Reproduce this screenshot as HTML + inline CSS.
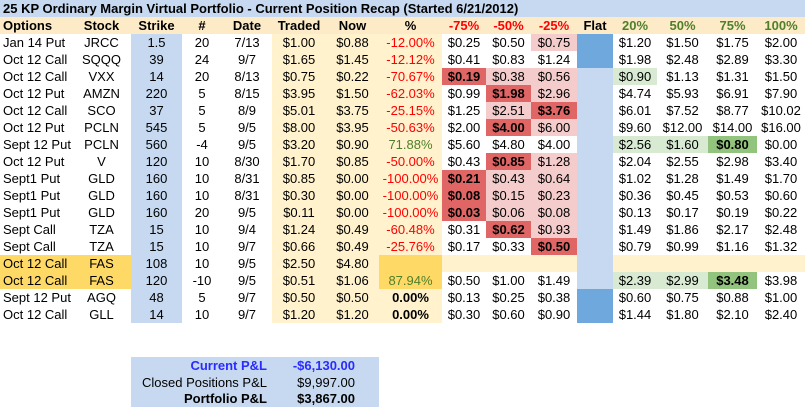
<!DOCTYPE html>
<html><head><meta charset="utf-8">
<style>
body{margin:0;width:805px;height:410px;background:#fff;font-family:"Liberation Sans",Arial,sans-serif;font-size:13px;overflow:hidden;position:relative}
.title{position:absolute;left:0;top:0;width:805px;height:17px;background:#c6d9f0;font-weight:bold;line-height:17px;padding-left:3px;box-sizing:border-box;white-space:nowrap}
table{position:absolute;left:0;top:17px;width:805px;border-collapse:collapse;table-layout:fixed}
td{height:17px;padding:0;line-height:17px;text-align:center;white-space:nowrap;overflow:visible}
tr.hdr td{background:#fdebc8;font-weight:bold}
.sum{position:absolute;left:131px;top:357px;width:248px;height:50px;background:#c6d9f0}
.sum div{height:16.7px;line-height:17px;position:relative}
.sum span{position:absolute;white-space:nowrap}
</style></head><body>
<div class="title">25 KP Ordinary Margin Virtual Portfolio - Current Position Recap (Started 6/21/2012)</div>
<table id="t"></table>
<div class="sum">
 <div style="color:#2b2bff;font-weight:bold"><span style="right:112px">Current P&amp;L</span><span style="right:24px">-$6,130.00</span></div>
 <div><span style="right:112px">Closed Positions P&amp;L</span><span style="right:24px">$9,997.00</span></div>
 <div style="font-weight:bold"><span style="right:112px">Portfolio P&amp;L</span><span style="right:24px">$3,867.00</span></div>
</div>
<script>
const widths=[72,59,51,40,50,54,53,63,44,45,46,36,44,51,49,48];
const headers=["Options","Stock","Strike","#","Date","Traded","Now","%","-75%","-50%","-25%","Flat","20%","50%","75%","100%"];
const rows=[
["Jan 14 Put","JRCC","1.5","20","7/13","$1.00","$0.88","-12.00%","$0.25","$0.50","$0.75","$1.20","$1.50","$1.75","$2.00"],
["Oct 12 Call","SQQQ","39","24","9/7","$1.65","$1.45","-12.12%","$0.41","$0.83","$1.24","$1.98","$2.48","$2.89","$3.30"],
["Oct 12 Call","VXX","14","20","8/13","$0.75","$0.22","-70.67%","$0.19","$0.38","$0.56","$0.90","$1.13","$1.31","$1.50"],
["Oct 12 Put","AMZN","220","5","8/15","$3.95","$1.50","-62.03%","$0.99","$1.98","$2.96","$4.74","$5.93","$6.91","$7.90"],
["Oct 12 Call","SCO","37","5","8/9","$5.01","$3.75","-25.15%","$1.25","$2.51","$3.76","$6.01","$7.52","$8.77","$10.02"],
["Oct 12 Put","PCLN","545","5","9/5","$8.00","$3.95","-50.63%","$2.00","$4.00","$6.00","$9.60","$12.00","$14.00","$16.00"],
["Sept 12 Put","PCLN","560","-4","9/5","$3.20","$0.90","71.88%","$5.60","$4.80","$4.00","$2.56","$1.60","$0.80","$0.00"],
["Oct 12 Put","V","120","10","8/30","$1.70","$0.85","-50.00%","$0.43","$0.85","$1.28","$2.04","$2.55","$2.98","$3.40"],
["Sept1 Put","GLD","160","10","8/31","$0.85","$0.00","-100.00%","$0.21","$0.43","$0.64","$1.02","$1.28","$1.49","$1.70"],
["Sept1 Put","GLD","160","10","8/31","$0.30","$0.00","-100.00%","$0.08","$0.15","$0.23","$0.36","$0.45","$0.53","$0.60"],
["Sept1 Put","GLD","160","20","9/5","$0.11","$0.00","-100.00%","$0.03","$0.06","$0.08","$0.13","$0.17","$0.19","$0.22"],
["Sept Call","TZA","15","10","9/4","$1.24","$0.49","-60.48%","$0.31","$0.62","$0.93","$1.49","$1.86","$2.17","$2.48"],
["Sept Call","TZA","15","10","9/7","$0.66","$0.49","-25.76%","$0.17","$0.33","$0.50","$0.79","$0.99","$1.16","$1.32"],
["Oct 12 Call","FAS","108","10","9/5","$2.50","$4.80","","","","","","","",""],
["Oct 12 Call","FAS","120","-10","9/5","$0.51","$1.06","87.94%","$0.50","$1.00","$1.49","$2.39","$2.99","$3.48","$3.98"],
["Sept 12 Put","AGQ","48","5","9/7","$0.50","$0.50","0.00%","$0.13","$0.25","$0.38","$0.60","$0.75","$0.88","$1.00"],
["Oct 12 Call","GLL","14","10","9/7","$1.20","$1.20","0.00%","$0.30","$0.60","$0.90","$1.44","$1.80","$2.10","$2.40"]];
const shades=["wwp","www","rpp","wrp","wpr","wrp","www","wrp","rpp","rpp","rpp","wrp","wwr","ooo","www","www","www"];
const gshades=["wwww","wwww","gwww","wwww","wwww","wwww","ggGw","wwww","wwww","wwww","wwww","wwww","wwww","oooo","ggGw","wwww","wwww"];
const flatDark=[true,true,false,false,false,false,false,false,false,false,false,false,false,false,false,true,true];
const bgMap={w:"#fff",p:"#f4cccc",r:"#e06666",g:"#d9ead3",G:"#93c47d",o:"#fff2cc"};
const t=document.getElementById('t');
const cg=document.createElement('colgroup');
widths.forEach(w=>{const c=document.createElement('col');c.style.width=w+'px';cg.appendChild(c);});
t.appendChild(cg);
const hr=document.createElement('tr');hr.className='hdr';


headers.forEach((h,ci)=>{const td=document.createElement('td');td.textContent=h;
 
 
 if(ci==0){td.style.textAlign='left';td.style.paddingLeft='3px';}
 if(ci>=8&&ci<=10)td.style.color='#ff0000';
 if(ci>=12)td.style.color='#4f7f2a';
 hr.appendChild(td);});
t.appendChild(hr);
rows.forEach((r,ri)=>{const tr=document.createElement('tr');
 
 
 const vals=[r[0],r[1],r[2],r[3],r[4],r[5],r[6],r[7],r[8],r[9],r[10],"",r[11],r[12],r[13],r[14]];
 vals.forEach((v,ci)=>{
  const td=document.createElement('td');
  
  
  td.textContent=v;
  let bg='#fff';
  if(ci==0){td.style.textAlign='left';td.style.paddingLeft='3px';}
  if(ci==2)bg='#c6d9f0';
  if(ci>=5&&ci<=7)bg='#fff2cc';
  if((ri==13||ri==14)&&(ci==0||ci==1))bg='#ffd966';
  if((ri==13||ri==14)&&ci==7)bg='#ffd966';
  if(ci==7){if(v.startsWith('-'))td.style.color='#ff0000';else if(v=='0.00%')td.style.fontWeight='bold';else td.style.color='#4f7f2a';}
  if(ci>=8&&ci<=10){const s=shades[ri][ci-8];bg=bgMap[s];if(s=='r')td.style.fontWeight='bold';}
  if(ci==11){bg=flatDark[ri]?'#6fa8dc':'#c6d9f0';}
  if(ci>=12){const s=gshades[ri][ci-12];bg=bgMap[s];if(s=='G')td.style.fontWeight='bold';}
  td.style.background=bg;tr.appendChild(td);});
 t.appendChild(tr);});
</script>
</body></html>
